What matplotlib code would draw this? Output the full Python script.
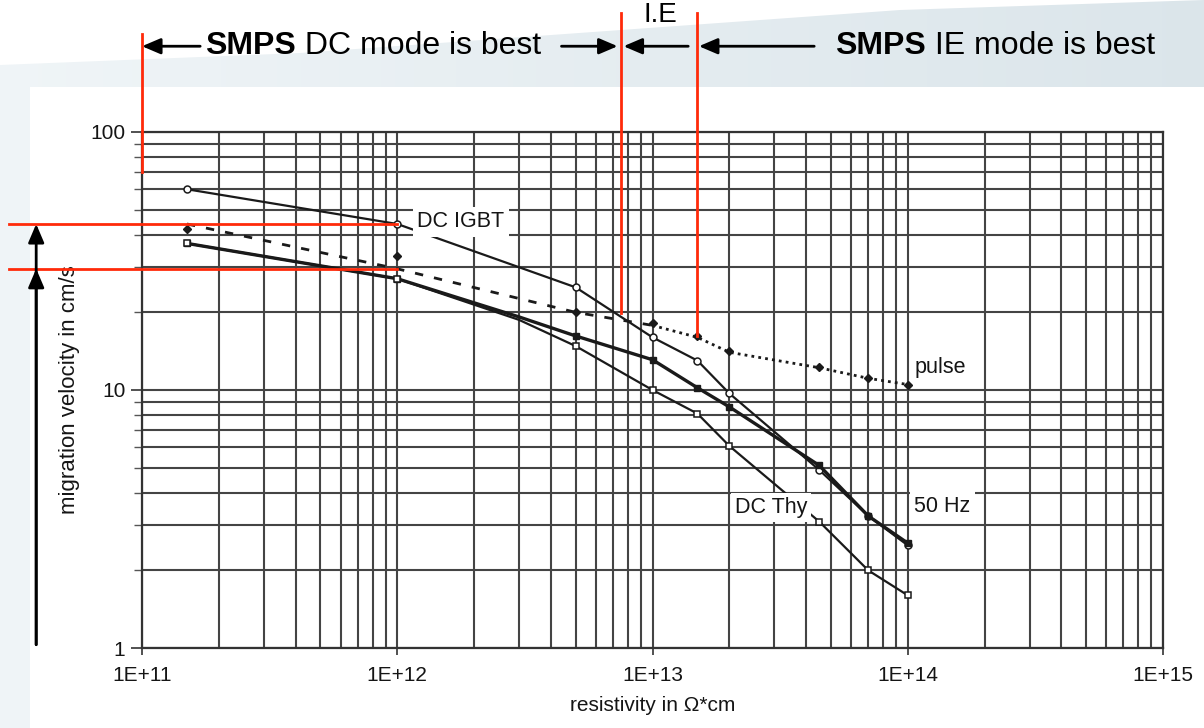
import numpy as np
import matplotlib
matplotlib.use("Agg")
import matplotlib.pyplot as plt
from matplotlib.patches import Rectangle, Polygon
from matplotlib.ticker import FixedLocator, FixedFormatter, NullFormatter, LogLocator

plt.rcParams["font.family"] = ["Liberation Sans", "DejaVu Sans"]

# resistivity (ohm*cm) / migration velocity (cm/s)
igbt_x = [1.5e11, 1e12, 5e12, 1e13, 1.5e13, 2e13, 4.5e13, 7e13, 1e14]
igbt_y = [60, 44, 25, 16, 13, 9.7, 4.9, 3.25, 2.5]

hz50_x = [1.5e11, 1e12, 3e12, 5e12, 1e13, 1.5e13, 2e13, 4.5e13, 7e13, 1e14]
hz50_y = [37, 27, 19.2, 16.2, 13.1, 10.2, 8.6, 5.1, 3.25, 2.55]

thy_x = [1.5e11, 1e12, 3e12, 5e12, 1e13, 1.5e13, 2e13, 4.5e13, 7e13, 1e14]
thy_y = [37, 27, 18.7, 14.8, 10, 8.1, 6.07, 3.09, 2.0, 1.6]

pulse_x = [1.5e11, 1e12, 5e12, 1e13, 1.5e13, 2e13, 4.5e13, 7e13, 1e14]
pulse_line_y = [44, 29.5, 20, 17.8, 16.0, 14.0, 12.2, 11.1, 10.5]
pulse_dot_y = [42, 33, 20, 18.2, 16.2, 14.2, 12.3, 11.1, 10.5]

x_ticks = [1e11, 1e12, 1e13, 1e14, 1e15]
x_ticklabels = ["1E+11", "1E+12", "1E+13", "1E+14", "1E+15"]
y_ticks = [1, 10, 100]
y_ticklabels = ["1", "10", "100"]

# mode boundaries and the two velocity levels marked in red
dc_limit = 7.5e12
ie_limit = 1.5e13
v_high = 44
v_low = 29.5

W, H = 1204, 728
fig = plt.figure(figsize=(W / 100, H / 100), dpi=100)

# slide background
bg = fig.add_axes([0, 0, 1, 1], zorder=-10)
bg.set_xlim(0, W)
bg.set_ylim(H, 0)
bg.axis("off")
grad = np.linspace(0, 1, 256)[None, :, None]
c0 = np.array([0.94, 0.96, 0.97])
c1 = np.array([0.86, 0.90, 0.92])
bg.imshow(c0 + (c1 - c0) * grad, extent=[0, W, H, 0], aspect="auto")
bg.add_patch(Polygon([(0, 0), (W, 0), (900, 10), (300, 53), (0, 65)],
                     closed=True, fc="white", ec="none"))
bg.add_patch(Rectangle((30, 87), W - 30, H - 87, fc="white", ec="none"))

ax = fig.add_axes([142 / W, 1 - 648 / H, (1163 - 142) / W, (648 - 132) / H])
ax.set_facecolor("white")
ax.set_xscale("log")
ax.set_yscale("log")
ax.set_xlim(1e11, 1e15)
ax.set_ylim(1, 100)

grid_c = "#444444"
ax.xaxis.set_major_locator(FixedLocator(x_ticks))
ax.xaxis.set_major_formatter(FixedFormatter(x_ticklabels))
ax.yaxis.set_major_locator(FixedLocator(y_ticks))
ax.yaxis.set_major_formatter(FixedFormatter(y_ticklabels))
ax.xaxis.set_minor_locator(LogLocator(base=10, subs=range(2, 10)))
ax.yaxis.set_minor_locator(LogLocator(base=10, subs=range(2, 10)))
ax.xaxis.set_minor_formatter(NullFormatter())
ax.yaxis.set_minor_formatter(NullFormatter())
ax.grid(True, which="both", color=grid_c, lw=1.5)
ax.set_axisbelow(True)
for s in ax.spines.values():
    s.set_color("#333333")
    s.set_linewidth(1.6)

txt_c = "#151515"
ax.tick_params(axis="x", which="major", direction="out", length=5, width=1.2,
               color="#333333", pad=8, labelsize=15, labelcolor=txt_c)
ax.tick_params(axis="x", which="minor", length=0)
ax.tick_params(axis="y", which="major", direction="out", length=8, width=1.2,
               color="#333333", pad=4, labelsize=15, labelcolor=txt_c)
ax.tick_params(axis="y", which="minor", direction="out", length=6, width=1.0,
               color="#555555")

ax.set_xlabel("resistivity in \u03a9*cm", fontsize=15, color=txt_c)
ax.xaxis.set_label_coords(0.5, -0.093)
ax.set_ylabel("migration velocity in cm/s", fontsize=16, color=txt_c)
ax.yaxis.set_label_coords(-0.061, 0.5)

line_c = "#1a1a1a"
ax.plot(igbt_x, igbt_y, color=line_c, lw=1.6, marker="o", ms=5,
        mfc="white", mec=line_c, mew=1.1, zorder=3)
ax.plot(hz50_x, hz50_y, color=line_c, lw=2.4, marker="s", ms=5,
        mfc=line_c, mec=line_c, markevery=[0, 1, 3, 4, 5, 6, 7, 8, 9], zorder=3)
ax.plot(thy_x, thy_y, color=line_c, lw=1.6, marker="s", ms=5,
        mfc="white", mec=line_c, mew=1.1, markevery=[0, 1, 3, 4, 5, 6, 7, 8, 9],
        zorder=3)
# pulse: dashed at low resistivity, dotted beyond 1E+13
ax.plot(pulse_x[:4], pulse_line_y[:4], color=line_c, lw=2.0,
        dashes=(3, 4), zorder=3)
ax.plot(pulse_x[3:], pulse_line_y[3:], color=line_c, lw=2.0,
        dashes=(1, 1.5), zorder=3)
ax.plot(pulse_x, pulse_dot_y, ls="none", marker="D", ms=4.5,
        color=line_c, zorder=3)

box = dict(fc="white", ec="none", pad=3)
lab_fs = 15.5
ax.text(1.2e12, 44.8, "DC IGBT", fontsize=lab_fs, va="center", ha="left",
        color=txt_c, bbox=box, zorder=4)
ax.text(1.06e14, 12.2, "pulse", fontsize=lab_fs, va="center", ha="left",
        color=txt_c, bbox=box, zorder=4)
ax.text(1.06e14, 3.55, "50 Hz", fontsize=lab_fs, va="center", ha="left",
        color=txt_c, bbox=box, zorder=4)
ax.text(2.1e13, 3.5, "DC Thy", fontsize=lab_fs, va="center", ha="left",
        color=txt_c, bbox=box, zorder=4)

# red markers for the mode boundaries
red = "#ff2a0a"
ax.plot([1e11, 1e11], [70, 240], color=red, lw=2, clip_on=False, zorder=6)
ax.plot([dc_limit, dc_limit], [19.9, 290], color=red, lw=2, clip_on=False, zorder=6)
ax.plot([ie_limit, ie_limit], [16.2, 290], color=red, lw=2, clip_on=False, zorder=6)
ax.plot([3e10, 1e12], [v_high, v_high], color=red, lw=2, clip_on=False, zorder=6)
ax.plot([3e10, 1e12], [v_low, v_low], color=red, lw=2, clip_on=False, zorder=6)

arrow = dict(arrowstyle="-|>,head_length=0.75,head_width=0.32", lw=2,
             color="black", mutation_scale=15, shrinkA=0, shrinkB=0)
y_top = 215
for tip, tail in [(1e11, 1.69e11), (7.3e12, 4.4e12),
                  (7.7e12, 1.38e13), (1.52e13, 4.3e13)]:
    ax.annotate("", xy=(tip, y_top), xytext=(tail, y_top), arrowprops=arrow,
                annotation_clip=False, zorder=7)
for tip in [v_high, v_low]:
    ax.annotate("", xy=(3.85e10, tip), xytext=(3.85e10, 1.03), arrowprops=arrow,
                annotation_clip=False, zorder=7)

top_fs = 23
t1 = ax.text(1.77e11, y_top, "SMPS", fontsize=top_fs, fontweight="bold",
             va="center", ha="left", clip_on=False)
ax.annotate(" DC mode is best", xy=(1, 0), xycoords=t1, va="bottom",
            ha="left", fontsize=top_fs, annotation_clip=False)
t2 = ax.text(5.2e13, y_top, "SMPS", fontsize=top_fs, fontweight="bold",
             va="center", ha="left", clip_on=False)
ax.annotate(" IE mode is best", xy=(1, 0), xycoords=t2, va="bottom",
            ha="left", fontsize=top_fs, annotation_clip=False)
ax.text(1.07e13, 285, "I.E", fontsize=20, va="center", ha="center",
        clip_on=False)

fig.savefig("out.png", dpi=100)
